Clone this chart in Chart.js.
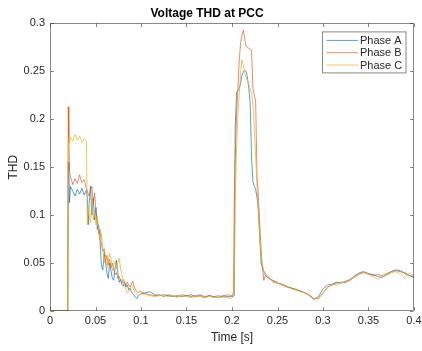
<!DOCTYPE html>
<html>
<head>
<meta charset="utf-8">
<title>Voltage THD at PCC</title>
<script src="https://cdn.jsdelivr.net/npm/chart.js@4/dist/chart.umd.min.js"></script>
<style>
  html, body { margin: 0; padding: 0; background: #fff; }
  #wrap { width: 422px; height: 351px; }
</style>
</head>
<body>
<div id="wrap"><canvas id="thd" width="422" height="351"></canvas></div>
<script>
// Sample times [s] shared by the three phases
const time = [
  0, 0.0195, 0.0201, 0.0207, 0.0215,
  0.0225, 0.025, 0.0275, 0.03, 0.0325, 0.035, 0.0375, 0.04,
  0.041, 0.042, 0.043, 0.0445, 0.046, 0.0475, 0.049, 0.0505, 0.052, 0.0535,
  0.055, 0.0565, 0.058, 0.0595, 0.061, 0.0625, 0.064, 0.0655, 0.067, 0.0685,
  0.07, 0.0715, 0.073, 0.0745, 0.076, 0.0775, 0.079, 0.0805, 0.082, 0.0835,
  0.085, 0.0865, 0.088, 0.0895, 0.091, 0.0925, 0.094, 0.0955, 0.097, 0.0985, 0.1,
  0.105, 0.11, 0.115, 0.12, 0.125, 0.13, 0.135, 0.14, 0.145, 0.15,
  0.155, 0.16, 0.165, 0.17, 0.175, 0.18, 0.185, 0.19, 0.195, 0.1985,
  0.2005, 0.2015, 0.2025, 0.2035, 0.205, 0.2065, 0.208, 0.2095, 0.211, 0.2125,
  0.214, 0.2155, 0.217, 0.2185, 0.22, 0.2215, 0.223, 0.2245, 0.226, 0.2275,
  0.229, 0.2305, 0.232, 0.2335, 0.235, 0.2365, 0.238, 0.24,
  0.245, 0.25, 0.255, 0.26, 0.265, 0.27, 0.275, 0.28, 0.285, 0.29,
  0.295, 0.3, 0.305, 0.31, 0.315, 0.32, 0.325, 0.33, 0.335, 0.34,
  0.345, 0.35, 0.355, 0.36, 0.365, 0.37, 0.375, 0.38, 0.385, 0.39,
  0.395, 0.4
];

// Voltage THD per phase at the point of common coupling
const phaseA = [
  0, 0, 0.155, 0.147, 0.113,
  0.13, 0.125, 0.12, 0.127, 0.122, 0.128, 0.121, 0.126,
  0.118, 0.09, 0.112, 0.13, 0.1, 0.118, 0.095, 0.108, 0.085, 0.09,
  0.072, 0.048, 0.043, 0.06, 0.052, 0.04, 0.034, 0.05, 0.042, 0.034,
  0.032, 0.045, 0.053, 0.04, 0.03, 0.033, 0.028, 0.026, 0.03, 0.025,
  0.027, 0.022, 0.024, 0.02, 0.018, 0.016, 0.014, 0.013, 0.016, 0.017, 0.018,
  0.019, 0.02, 0.017, 0.016, 0.017, 0.016, 0.015, 0.016, 0.015, 0.016,
  0.017, 0.015, 0.016, 0.014, 0.016, 0.015, 0.014, 0.016, 0.015, 0.015,
  0.015, 0.015, 0.016, 0.19, 0.228, 0.23, 0.232, 0.238, 0.246, 0.25,
  0.251, 0.25, 0.243, 0.232, 0.216, 0.16, 0.135, 0.13, 0.127, 0.118,
  0.105, 0.075, 0.05, 0.045, 0.041, 0.038, 0.036, 0.035,
  0.031, 0.029, 0.028, 0.026, 0.024, 0.022, 0.021, 0.019, 0.016, 0.012,
  0.015, 0.023, 0.027, 0.028, 0.03, 0.029, 0.031, 0.033, 0.037, 0.04,
  0.041, 0.039, 0.038, 0.036, 0.035, 0.038, 0.041, 0.043, 0.042, 0.039,
  0.037, 0.035
];
const phaseB = [
  0, 0, 0.213, 0.175, 0.145,
  0.14, 0.132, 0.138, 0.133, 0.142, 0.134, 0.137, 0.128,
  0.125, 0.122, 0.12, 0.126, 0.13, 0.112, 0.123, 0.104, 0.096, 0.08,
  0.085, 0.07, 0.062, 0.065, 0.052, 0.058, 0.048, 0.054, 0.045, 0.05,
  0.044, 0.038, 0.04, 0.034, 0.036, 0.032, 0.029, 0.033, 0.03, 0.026,
  0.03, 0.027, 0.025, 0.028, 0.031, 0.025, 0.022, 0.02, 0.019, 0.021, 0.02,
  0.018, 0.017, 0.016, 0.017, 0.015, 0.017, 0.016, 0.015, 0.017, 0.016,
  0.015, 0.016, 0.017, 0.015, 0.016, 0.015, 0.016, 0.015, 0.017, 0.016,
  0.016, 0.02, 0.11, 0.16, 0.205, 0.232, 0.262, 0.28, 0.288, 0.293,
  0.284, 0.276, 0.275, 0.274, 0.273, 0.272, 0.232, 0.226, 0.218, 0.14,
  0.12, 0.09, 0.065, 0.045, 0.032, 0.037, 0.036, 0.034,
  0.032, 0.03, 0.027, 0.025, 0.024, 0.023, 0.021, 0.019, 0.017, 0.013,
  0.013, 0.019, 0.025, 0.027, 0.029, 0.03, 0.03, 0.032, 0.036, 0.039,
  0.04, 0.039, 0.037, 0.038, 0.037, 0.039, 0.041, 0.042, 0.041, 0.04,
  0.037, 0.036
];
const phaseC = [
  0, 0, 0.178, 0.18, 0.176,
  0.181, 0.177, 0.184, 0.178, 0.182, 0.176, 0.18, 0.177,
  0.09, 0.108, 0.1, 0.092, 0.118, 0.095, 0.104, 0.09, 0.098, 0.084,
  0.075, 0.08, 0.066, 0.05, 0.058, 0.045, 0.052, 0.06, 0.055, 0.042,
  0.048, 0.052, 0.044, 0.05, 0.055, 0.045, 0.038, 0.032, 0.026, 0.022,
  0.019, 0.02, 0.024, 0.028, 0.025, 0.021, 0.019, 0.017, 0.016, 0.017, 0.018,
  0.017, 0.016, 0.015, 0.016, 0.016, 0.015, 0.016, 0.014, 0.016, 0.015,
  0.014, 0.015, 0.015, 0.014, 0.015, 0.014, 0.015, 0.014, 0.014, 0.013,
  0.014, 0.015, 0.03, 0.11, 0.17, 0.205, 0.225, 0.25, 0.262, 0.256,
  0.248, 0.244, 0.24, 0.236, 0.232, 0.226, 0.215, 0.19, 0.16, 0.13,
  0.105, 0.08, 0.058, 0.048, 0.042, 0.04, 0.037, 0.036,
  0.03, 0.029, 0.027, 0.026, 0.023, 0.022, 0.02, 0.019, 0.016, 0.013,
  0.014, 0.018, 0.024, 0.028, 0.027, 0.03, 0.029, 0.034, 0.035, 0.038,
  0.04, 0.038, 0.036, 0.033, 0.036, 0.037, 0.04, 0.041, 0.039, 0.034,
  0.04, 0.036
];

const seriesNames = ['Phase A', 'Phase B', 'Phase C'];

// Axis ticks
const xTickValues = [0, 0.05, 0.1, 0.15, 0.2, 0.25, 0.3, 0.35, 0.4];
const xTickLabels = ['0', '0.05', '0.1', '0.15', '0.2', '0.25', '0.3', '0.35', '0.4'];
const yTickValues = [0, 0.05, 0.1, 0.15, 0.2, 0.25, 0.3];
const yTickLabels = ['0', '0.05', '0.1', '0.15', '0.2', '0.25', '0.3'];

const COLORS = ['rgba(0,114,189,0.8)', 'rgba(217,83,25,0.78)', 'rgba(237,177,32,0.85)'];
const AXIS_COLOR = '#262626';
const BOX_COLOR = 'rgba(38,38,38,0.55)';
const FONT = '"Liberation Sans", Arial, Helvetica, sans-serif';

Chart.defaults.font.family = FONT;

const toPoints = ys => time.map((t, i) => ({ x: t, y: ys[i] }));

// Axes box with inward tick marks on all four sides
const axesBox = {
  id: 'axesBox',
  afterDatasetsDraw(chart) {
    const { ctx, chartArea: a, scales: { x, y } } = chart;
    const L = Math.round(a.left) + 0.5, R = Math.round(a.right) - 0.5;
    const T = Math.round(a.top) + 0.5, B = Math.round(a.bottom) - 0.5;
    const len = 3.5;
    ctx.save();
    ctx.strokeStyle = BOX_COLOR;
    ctx.lineWidth = 1;
    ctx.beginPath();
    ctx.rect(L, T, R - L, B - T);
    xTickValues.forEach(v => {
      const px = Math.round(x.getPixelForValue(v)) + 0.5;
      ctx.moveTo(px, B); ctx.lineTo(px, B - len);
      ctx.moveTo(px, T); ctx.lineTo(px, T + len);
    });
    yTickValues.forEach(v => {
      const py = Math.round(y.getPixelForValue(v)) + 0.5;
      ctx.moveTo(L, py); ctx.lineTo(L + len, py);
      ctx.moveTo(R, py); ctx.lineTo(R - len, py);
    });
    ctx.stroke();
    ctx.restore();
  }
};

// Boxed legend in the upper-right corner of the axes
const boxedLegend = {
  id: 'boxedLegend',
  afterDraw(chart) {
    const { ctx, chartArea: a } = chart;
    const w = 83.5, h = 41, rowH = 12.3;
    const bx = a.right - 8 - w, by = a.top + 8.5;
    ctx.save();
    ctx.fillStyle = '#fff';
    ctx.fillRect(bx, by, w, h);
    ctx.strokeStyle = BOX_COLOR;
    ctx.lineWidth = 1;
    ctx.strokeRect(bx, by, w, h);
    ctx.font = '11px ' + FONT;
    ctx.textBaseline = 'middle';
    ctx.textAlign = 'left';
    chart.data.datasets.forEach((ds, i) => {
      const ry = by + 8.5 + i * rowH;
      ctx.strokeStyle = ds.borderColor;
      ctx.lineWidth = 0.85;
      ctx.beginPath();
      ctx.moveTo(bx + 4, ry);
      ctx.lineTo(bx + 35.5, ry);
      ctx.stroke();
      ctx.fillStyle = AXIS_COLOR;
      ctx.fillText(ds.label, bx + 37.5, ry + 0.5);
    });
    ctx.restore();
  }
};

new Chart(document.getElementById('thd'), {
  type: 'line',
  data: {
    datasets: [phaseA, phaseB, phaseC].map((ys, i) => ({
      label: seriesNames[i],
      data: toPoints(ys),
      borderColor: COLORS[i],
      backgroundColor: COLORS[i],
      borderWidth: 0.85,
      pointRadius: 0,
      tension: 0,
      fill: false,
      order: 3 - i
    }))
  },
  options: {
    responsive: false,
    animation: false,
    devicePixelRatio: 1,
    layout: { padding: { left: 0, right: 8, top: 0, bottom: 0 } },
    plugins: {
      legend: { display: false },
      tooltip: { enabled: false },
      title: {
        display: true,
        text: 'Voltage THD at PCC',
        color: '#000',
        font: { size: 12, weight: 'bold', family: FONT },
        padding: { top: 6.5, bottom: 2.5 }
      }
    },
    scales: {
      x: {
        type: 'linear',
        min: 0,
        max: 0.4,
        afterBuildTicks: s => { s.ticks = xTickValues.map(v => ({ value: v })); },
        afterFit: s => { s.height = 40; s.paddingLeft = 0; s.paddingRight = 0; },
        ticks: {
          callback: (v, i) => xTickLabels[i],
          color: AXIS_COLOR,
          font: { size: 11 },
          padding: 3.5,
          maxRotation: 0,
          autoSkip: false
        },
        grid: { display: false, drawTicks: false },
        border: { display: false },
        title: {
          display: true,
          text: 'Time [s]',
          color: AXIS_COLOR,
          font: { size: 12 },
          padding: { top: 0, bottom: 6 }
        }
      },
      y: {
        type: 'linear',
        min: 0,
        max: 0.3,
        afterBuildTicks: s => { s.ticks = yTickValues.map(v => ({ value: v })); },
        afterFit: s => { s.width = 50; s.paddingTop = 0; s.paddingBottom = 0; },
        ticks: {
          callback: (v, i) => yTickLabels[i],
          color: AXIS_COLOR,
          font: { size: 11 },
          padding: 5,
          autoSkip: false
        },
        grid: { display: false, drawTicks: false },
        border: { display: false },
        title: {
          display: true,
          text: 'THD',
          color: AXIS_COLOR,
          font: { size: 12 },
          padding: { top: 6, bottom: 0 }
        }
      }
    }
  },
  plugins: [axesBox, boxedLegend]
});
</script>
</body>
</html>
